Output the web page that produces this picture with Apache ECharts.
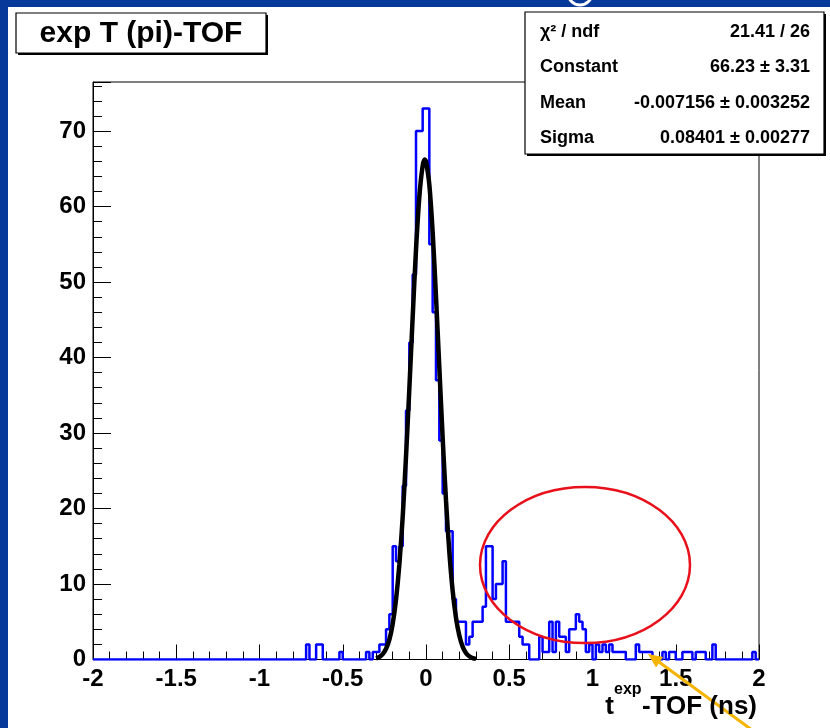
<!DOCTYPE html>
<html>
<head>
<meta charset="utf-8">
<script src="https://cdn.jsdelivr.net/npm/echarts@6/dist/echarts.min.js"></script>
<style>
  html, body { margin: 0; padding: 0; background: #fff; }
  #main { width: 830px; height: 728px; }
</style>
</head>
<body>
<div id="main"></div>
<script>
// histogram: 200 bins of 0.02 ns from -2 to 2
var binLow = -2;
var binWidth = 0.02;
var counts = [
  0, 0, 0, 0, 0, 0, 0, 0, 0, 0, 0, 0, 0, 0, 0, 0, 0, 0, 0, 0,
  0, 0, 0, 0, 0, 0, 0, 0, 0, 0, 0, 0, 0, 0, 0, 0, 0, 0, 0, 0,
  0, 0, 0, 0, 0, 0, 0, 0, 0, 0, 0, 0, 0, 0, 0, 0, 0, 0, 0, 0,
  0, 0, 0, 0, 2, 0, 0, 2, 2, 0, 0, 0, 0, 0, 1, 0, 0, 0, 0, 0,
  0, 0, 1, 0, 1, 1, 2, 2, 4, 6, 15, 13, 15, 23, 33, 42, 51, 70, 70, 73,
  73, 55, 46, 37, 29, 22, 17, 17, 8, 5, 5, 5, 2, 3, 5, 5, 5, 7, 15, 15,
  8, 10, 10, 13, 5, 5, 5, 5, 3, 2, 2, 0, 0, 0, 3, 1, 1, 5, 1, 5,
  3, 3, 1, 4, 4, 6, 5, 4, 1, 2, 0, 2, 1, 2, 1, 2, 1, 1, 1, 1,
  0, 0, 0, 2, 1, 1, 1, 1, 0, 0, 0, 1, 0, 1, 1, 0, 0, 1, 1, 1,
  0, 1, 1, 1, 0, 0, 2, 0, 0, 0, 0, 0, 0, 0, 0, 0, 0, 0, 1, 0
];

// gaussian fit curve
var fitX = [-0.30, -0.28, -0.26, -0.24, -0.22, -0.20, -0.18, -0.16, -0.14, -0.12,
            -0.10, -0.08, -0.06, -0.04, -0.02, -0.007, 0.00, 0.02, 0.04, 0.06,
            0.08, 0.10, 0.12, 0.14, 0.16, 0.18, 0.20, 0.22, 0.24, 0.26, 0.28, 0.30];
var fitY = [0.15, 0.33, 0.72, 1.42, 2.64, 4.73, 7.95, 12.6, 18.9, 26.9,
            35.9, 45.4, 54.3, 61.3, 65.4, 66.23, 66.0, 62.9, 56.6, 48.1,
            38.7, 29.4, 21.1, 14.3, 9.14, 5.54, 3.17, 1.71, 0.87, 0.42, 0.19, 0.08];

var statNames = ['\u03c7\u00b2 / ndf', 'Constant', 'Mean', 'Sigma'];
var statValues = ['21.41 / 26', '66.23 \u00b1 3.31', '-0.007156 \u00b1 0.003252', '0.08401 \u00b1 0.00277'];

var title = 'exp T (pi)-TOF';

var font = 'Liberation Sans, Arial, Helvetica, sans-serif';
var slideBlue = '#06399a';

var histData = counts.map(function (c, i) {
  return [+(binLow + i * binWidth).toFixed(2), c];
});
histData.push([binLow + counts.length * binWidth, 0]);

var fitData = fitX.map(function (x, i) { return [x, fitY[i]]; });

var statGraphics = [];
statNames.forEach(function (name, i) {
  var y = 32 + i * 35.3;
  statGraphics.push({
    type: 'text', z: 102, x: 540, y: y,
    style: { text: name, font: 'bold 18px ' + font, fill: '#000', align: 'left', verticalAlign: 'middle' }
  });
  statGraphics.push({
    type: 'text', z: 102, x: 810, y: y,
    style: { text: statValues[i], font: 'bold 18px ' + font, fill: '#000', align: 'right', verticalAlign: 'middle' }
  });
});

var chart = echarts.init(document.getElementById('main'));
chart.setOption({
  backgroundColor: '#fff',
  animation: false,
  grid: {
    left: 93, right: 71, top: 82, bottom: 68.5,
    show: true, borderColor: '#000', borderWidth: 1
  },
  xAxis: {
    type: 'value', min: -2, max: 2, interval: 0.5,
    axisLine: { onZero: false, lineStyle: { color: '#000', width: 1 } },
    axisTick: { inside: true, length: 15, lineStyle: { color: '#000' } },
    minorTick: { show: true, splitNumber: 5, length: 8, lineStyle: { color: '#000' } },
    splitLine: { show: false },
    axisLabel: { color: '#000', fontSize: 24, fontWeight: 'bold', fontFamily: font, margin: 8 }
  },
  yAxis: {
    type: 'value', min: 0, max: 76.5, interval: 10,
    axisLine: { show: true, onZero: false, lineStyle: { color: '#000', width: 1 } },
    axisTick: { inside: true, length: 18, lineStyle: { color: '#000' } },
    minorTick: { show: true, splitNumber: 5, length: 9, lineStyle: { color: '#000' } },
    splitLine: { show: false },
    axisLabel: { color: '#000', fontSize: 24, fontWeight: 'bold', fontFamily: font, margin: 7, showMaxLabel: false }
  },
  series: [
    {
      type: 'line', name: 'hist', data: histData, step: 'end',
      symbol: 'none', z: 3,
      lineStyle: { color: '#0000ff', width: 2.5 }
    },
    {
      type: 'line', name: 'fit', data: fitData, smooth: 0.3,
      symbol: 'none', z: 4,
      lineStyle: { color: '#000', width: 4.5 }
    }
  ],
  graphic: [
    // slide background strips
    { type: 'rect', z: 90, shape: { x: 0, y: 0, width: 830, height: 7 }, style: { fill: slideBlue } },
    { type: 'rect', z: 90, shape: { x: 0, y: 0, width: 8, height: 728 }, style: { fill: slideBlue } },
    { type: 'circle', z: 91, shape: { cx: 580, cy: -7, r: 12 }, style: { fill: 'none', stroke: '#fff', lineWidth: 3 } },
    // title box
    { type: 'rect', z: 100, shape: { x: 18, y: 15, width: 250, height: 40 }, style: { fill: '#000' } },
    { type: 'rect', z: 101, shape: { x: 16, y: 13, width: 250, height: 40 }, style: { fill: '#fff', stroke: '#000', lineWidth: 1.2 } },
    { type: 'text', z: 102, x: 141, y: 34,
      style: { text: title, font: 'bold 30px ' + font, fill: '#000', align: 'center', verticalAlign: 'middle' } },
    // stats box
    { type: 'rect', z: 100, shape: { x: 527, y: 14, width: 299, height: 142 }, style: { fill: '#000' } },
    { type: 'rect', z: 101, shape: { x: 525, y: 12, width: 299, height: 142 }, style: { fill: '#fff', stroke: '#000', lineWidth: 1.2 } }
  ].concat(statGraphics).concat([
    // axis title
    { type: 'text', z: 102, x: 757, y: 707,
      style: { text: '-TOF (ns)', font: 'bold 26px ' + font, fill: '#000', align: 'right', verticalAlign: 'middle' } },
    { type: 'text', z: 102, x: 614, y: 690,
      style: { text: 'exp', font: 'bold 16px ' + font, fill: '#000', align: 'left', verticalAlign: 'middle' } },
    { type: 'text', z: 102, x: 614, y: 707,
      style: { text: 't', font: 'bold 26px ' + font, fill: '#000', align: 'right', verticalAlign: 'middle' } },
    // red ellipse annotation
    { type: 'ellipse', z: 95, shape: { cx: 585, cy: 565, rx: 105, ry: 78 },
      style: { fill: 'none', stroke: '#e8101a', lineWidth: 2.5 } },
    // yellow arrow
    { type: 'line', z: 95, shape: { x1: 752, y1: 730, x2: 659, y2: 662 },
      style: { stroke: '#f5b400', lineWidth: 3 } },
    { type: 'polygon', z: 95, shape: { points: [[648, 654], [663, 657], [656, 667.5]] },
      style: { fill: '#f5b400' } }
  ])
});
</script>
</body>
</html>
